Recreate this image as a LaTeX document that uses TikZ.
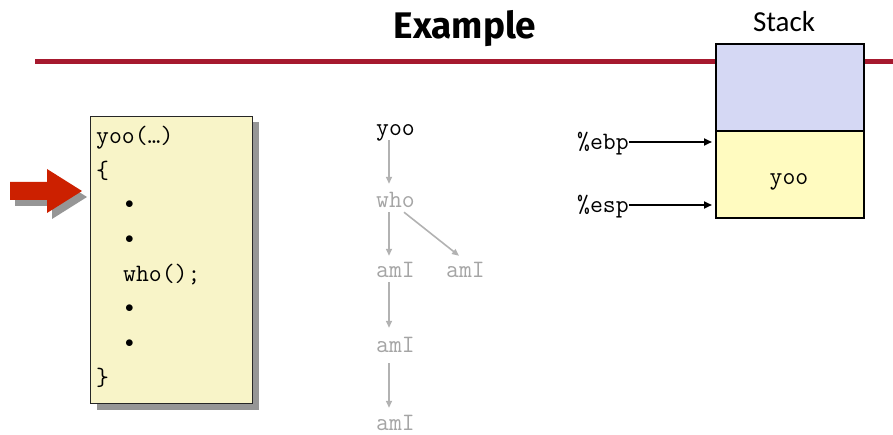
\documentclass[tikz,border=0pt]{standalone}
\usepackage{fontspec}
\setmainfont{Liberation Sans}
\newfontfamily\headfont{Fira Sans}
\newfontfamily\stackfont{Carlito}
\usetikzlibrary{arrows.meta,shadows}

\definecolor{rulered}{RGB}{166,25,46}
\definecolor{callred}{RGB}{204,32,0}
\definecolor{codefill}{RGB}{248,244,200}
\definecolor{frameblue}{RGB}{213,216,244}
\definecolor{frameyellow}{RGB}{255,251,192}
\definecolor{treegray}{RGB}{165,165,165}
\definecolor{shadowgray}{RGB}{150,150,150}

\newcommand{\dotmark}{{\fontsize{19}{20}\selectfont$\bullet$}}

\tikzset{
  code/.style={font=\ttfamily\fontsize{25}{28}\selectfont, inner sep=0pt,
               text height=10pt, text depth=4pt, anchor=base west},
  treelabel/.style={code, text=treegray},
  callarrow/.style={draw=treegray!85, line width=1.6pt,
                    -{Triangle[length=7pt,width=6pt]}},
  regarrow/.style={draw=black, line width=2pt,
                   -{Triangle[length=8pt,width=7pt]}, shorten >=3pt},
  codebox/.style={draw=black!85, line width=1pt, fill=codefill,
                  drop shadow={shadow xshift=6pt, shadow yshift=-6pt,
                               fill=shadowgray, opacity=1},
                  inner sep=0pt, anchor=north west},
  framebox/.style={draw=black, line width=2.2pt, inner sep=0pt,
                   anchor=north west, minimum width=148pt},
}

\begin{document}
\begin{tikzpicture}[x=1pt,y=-1pt]
  \path[use as bounding box] (0,0) rectangle (893,435);

  % heading and rule
  \node[font=\headfont\bfseries\fontsize{37}{40}\selectfont, anchor=base,
        inner sep=0pt] (title) at (465,38.5) {Example};
  \draw[rulered, line width=5pt] (35,61.5) -- (893,61.5);

  % source listing
  \node[codebox, minimum width=162pt, minimum height=287pt] (listing) at (90,116) {};
  \node[code] (l1) at (96,144)   {yoo(…)};
  \node[code] (l2) at (96,178.5) {\{};
  \node[code] (l3) at (125,209)  {\dotmark};
  \node[code] (l4) at (125,243.5){\dotmark};
  \node[code] (l5) at (123,282)  {who();};
  \node[code] (l6) at (125,312.5){\dotmark};
  \node[code] (l7) at (125,347)  {\dotmark};
  \node[code] (l8) at (96,385.5) {\}};

  % current-line marker
  \fill[shadowgray] (15,188) -- (52,188) -- (52,175) -- (87,197) -- (52,219)
        -- (52,206) -- (15,206) -- cycle;
  \fill[callred] (10,182) -- (47,182) -- (47,169) -- (82,191) -- (47,213)
        -- (47,200) -- (10,200) -- cycle;

  % call tree
  \node[code] (tyoo) at (376,136) {yoo};
  \node[treelabel] (twho) at (376,208) {who};
  \node[treelabel] (tami) at (376,278) {amI};
  \node[treelabel] (tamr) at (446,278) {amI};
  \node[treelabel] (tamb) at (376,352) {amI};
  \node[treelabel] (tamc) at (376,430) {amI};
  \draw[callarrow] ([xshift=13pt]tyoo.south west) -- ([xshift=13pt,yshift=14pt]twho.north west);
  \draw[callarrow] ([xshift=13pt]twho.south west) -- ([xshift=13pt,yshift=12pt]tami.north west);
  \draw[callarrow] ([xshift=28pt]twho.south west) -- ([xshift=13pt,yshift=12pt]tamr.north west);
  \draw[callarrow] ([xshift=13pt]tami.south west) -- ([xshift=13pt,yshift=14pt]tamb.north west);
  \draw[callarrow] ([xshift=13pt,yshift=-7pt]tamb.south west) -- ([xshift=13pt,yshift=12pt]tamc.north west);

  % stack
  \node[font=\stackfont\fontsize{29}{32}\selectfont, anchor=base, inner sep=0pt]
        (stacklabel) at (784,32) {Stack};
  \node[framebox, fill=frameblue, minimum height=87pt] (caller) at (715,43) {};
  \node[framebox, fill=frameyellow, minimum height=87pt] (frame) at (715,130) {};
  \node[code, anchor=base] (fyoo) at (789,185) {yoo};

  % register pointers
  \node[code] (ebp) at (577,150) {\%ebp};
  \node[code] (esp) at (577,213) {\%esp};
  \draw[regarrow] ([yshift=8pt]ebp.base east) -- ([yshift=8pt]ebp.base east -| frame.west);
  \draw[regarrow] ([yshift=8pt]esp.base east) -- ([yshift=8pt]esp.base east -| frame.west);
\end{tikzpicture}
\end{document}
